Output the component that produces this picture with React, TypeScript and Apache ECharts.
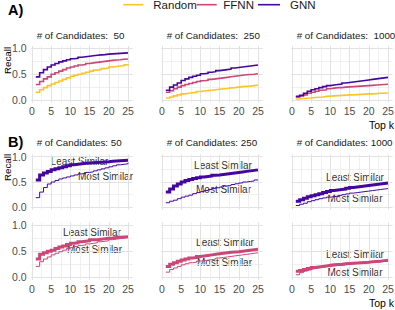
import React, { useEffect, useRef } from 'react';
import * as echarts from 'echarts';

// ---------- data ----------
const topK = [1, 2, 3, 4, 5, 6, 7, 8, 9, 10, 11, 12, 13, 14, 15, 16, 17, 18, 19, 20, 21, 22, 23, 24, 25];
const candidateCounts = ['50', '250', '1000'];
const modelNames = ['Random', 'FFNN', 'GNN'];
const xTickValues = [0, 5, 10, 15, 20, 25];
const xMinorValues = [2.5, 7.5, 12.5, 17.5, 22.5];
const yTickValues = [0, 0.5, 1];
const yMinorValues = [0.25, 0.75];
const similarityNames = ['Least Similar', 'Most Similar'];

// Panel A: recall per model, for 50 / 250 / 1000 candidates
const random50 = [0.15, 0.2, 0.24, 0.28, 0.31, 0.34, 0.37, 0.4, 0.43, 0.46, 0.48, 0.5, 0.52, 0.54, 0.56, 0.58, 0.59, 0.61, 0.62, 0.64, 0.65, 0.66, 0.67, 0.685, 0.7];
const ffnn50 = [0.3, 0.36, 0.41, 0.45, 0.5, 0.53, 0.56, 0.59, 0.62, 0.64, 0.66, 0.68, 0.69, 0.71, 0.72, 0.73, 0.74, 0.75, 0.76, 0.77, 0.775, 0.78, 0.79, 0.795, 0.8];
const gnn50 = [0.45, 0.53, 0.59, 0.64, 0.68, 0.71, 0.74, 0.76, 0.78, 0.8, 0.81, 0.83, 0.84, 0.85, 0.86, 0.87, 0.875, 0.88, 0.89, 0.895, 0.9, 0.905, 0.91, 0.915, 0.92];
const random250 = [0.04, 0.06, 0.08, 0.1, 0.12, 0.13, 0.14, 0.15, 0.165, 0.175, 0.185, 0.19, 0.2, 0.21, 0.22, 0.225, 0.235, 0.24, 0.25, 0.26, 0.265, 0.27, 0.28, 0.29, 0.3];
const ffnn250 = [0.15, 0.18, 0.22, 0.25, 0.28, 0.3, 0.32, 0.34, 0.36, 0.375, 0.385, 0.4, 0.41, 0.42, 0.43, 0.44, 0.45, 0.46, 0.47, 0.48, 0.49, 0.495, 0.5, 0.51, 0.52];
const gnn250 = [0.19, 0.25, 0.29, 0.33, 0.38, 0.41, 0.44, 0.46, 0.48, 0.51, 0.52, 0.54, 0.55, 0.57, 0.58, 0.59, 0.6, 0.62, 0.63, 0.64, 0.65, 0.66, 0.67, 0.68, 0.69];
const random1000 = [0.02, 0.03, 0.035, 0.04, 0.05, 0.055, 0.06, 0.07, 0.075, 0.08, 0.085, 0.09, 0.095, 0.1, 0.1, 0.105, 0.11, 0.115, 0.12, 0.12, 0.125, 0.13, 0.13, 0.135, 0.14];
const ffnn1000 = [0.06, 0.08, 0.1, 0.13, 0.15, 0.17, 0.19, 0.2, 0.22, 0.23, 0.24, 0.24, 0.25, 0.255, 0.26, 0.265, 0.27, 0.275, 0.28, 0.285, 0.29, 0.295, 0.3, 0.305, 0.31];
const gnn1000 = [0.07, 0.09, 0.13, 0.17, 0.2, 0.22, 0.24, 0.26, 0.28, 0.29, 0.3, 0.31, 0.33, 0.34, 0.35, 0.36, 0.37, 0.38, 0.39, 0.4, 0.41, 0.42, 0.43, 0.44, 0.45];

// Panel B: GNN least / most similar
const gnnLeast50 = [0.54, 0.64, 0.68, 0.71, 0.74, 0.76, 0.78, 0.8, 0.82, 0.84, 0.85, 0.86, 0.87, 0.875, 0.88, 0.885, 0.89, 0.895, 0.9, 0.91, 0.915, 0.92, 0.925, 0.93, 0.93];
const gnnMost50 = [0.19, 0.3, 0.39, 0.46, 0.5, 0.53, 0.56, 0.58, 0.6, 0.62, 0.64, 0.66, 0.67, 0.69, 0.7, 0.72, 0.74, 0.76, 0.78, 0.8, 0.82, 0.84, 0.85, 0.86, 0.88];
const gnnLeast250 = [0.3, 0.36, 0.42, 0.46, 0.5, 0.53, 0.55, 0.57, 0.585, 0.6, 0.61, 0.62, 0.635, 0.64, 0.65, 0.66, 0.67, 0.68, 0.69, 0.7, 0.71, 0.72, 0.73, 0.74, 0.75];
const gnnMost250 = [0.09, 0.12, 0.14, 0.17, 0.2, 0.22, 0.24, 0.27, 0.29, 0.31, 0.33, 0.35, 0.37, 0.385, 0.4, 0.42, 0.43, 0.45, 0.465, 0.48, 0.5, 0.51, 0.52, 0.54, 0.55];
const gnnLeast1000 = [0.12, 0.15, 0.18, 0.21, 0.23, 0.25, 0.27, 0.29, 0.31, 0.33, 0.34, 0.35, 0.36, 0.375, 0.39, 0.4, 0.41, 0.42, 0.43, 0.44, 0.45, 0.46, 0.47, 0.48, 0.49];
const gnnMost1000 = [0.035, 0.06, 0.08, 0.11, 0.13, 0.15, 0.17, 0.185, 0.2, 0.21, 0.22, 0.235, 0.25, 0.265, 0.28, 0.29, 0.3, 0.31, 0.32, 0.33, 0.34, 0.35, 0.36, 0.37, 0.38];

// Panel B: FFNN least / most similar
const ffnnLeast50 = [0.35, 0.44, 0.47, 0.5, 0.52, 0.55, 0.58, 0.6, 0.63, 0.65, 0.66, 0.68, 0.69, 0.7, 0.72, 0.72, 0.73, 0.74, 0.745, 0.75, 0.76, 0.765, 0.77, 0.775, 0.78];
const ffnnMost50 = [0.21, 0.3, 0.35, 0.39, 0.43, 0.46, 0.49, 0.52, 0.55, 0.57, 0.59, 0.61, 0.62, 0.64, 0.65, 0.66, 0.68, 0.69, 0.7, 0.72, 0.73, 0.74, 0.75, 0.76, 0.77];
const ffnnLeast250 = [0.21, 0.25, 0.28, 0.31, 0.33, 0.35, 0.37, 0.38, 0.4, 0.41, 0.42, 0.43, 0.44, 0.45, 0.46, 0.47, 0.48, 0.485, 0.49, 0.5, 0.51, 0.52, 0.53, 0.535, 0.54];
const ffnnMost250 = [0.1, 0.15, 0.18, 0.21, 0.24, 0.26, 0.28, 0.29, 0.31, 0.32, 0.33, 0.34, 0.35, 0.37, 0.38, 0.39, 0.4, 0.41, 0.42, 0.43, 0.44, 0.45, 0.46, 0.47, 0.48];
const ffnnLeast1000 = [0.115, 0.13, 0.15, 0.17, 0.19, 0.2, 0.21, 0.22, 0.23, 0.24, 0.245, 0.25, 0.26, 0.265, 0.27, 0.275, 0.28, 0.285, 0.29, 0.3, 0.305, 0.31, 0.32, 0.325, 0.33];
const ffnnMost1000 = [0.05, 0.09, 0.12, 0.14, 0.165, 0.18, 0.19, 0.2, 0.21, 0.22, 0.225, 0.23, 0.24, 0.25, 0.26, 0.265, 0.27, 0.275, 0.28, 0.29, 0.295, 0.3, 0.305, 0.31, 0.31];

// ---------- styling ----------
const FONT = '"Liberation Sans Narrow", "Liberation Sans", Arial, sans-serif';
const COLORS: Record<string, string> = { Random: '#fcc527', FFNN: '#cc4678', GNN: '#46069e' };
const colLeft = [31.2, 161.2, 291.2];
const panelW = 101.4;
const rowTop = [45.9, 154.2, 222.4];
const rowH = [56.7, 55.6, 57.6];
const majorGrid = '#e2e2e2';
const minorGrid = '#ececec';

type Panel = { row: number; col: number; lines: { name: string; values: number[]; color: string; width: number }[] };

function buildPanels(): Panel[] {
  const aData = [
    [random50, ffnn50, gnn50],
    [random250, ffnn250, gnn250],
    [random1000, ffnn1000, gnn1000],
  ];
  const bGnn = [
    [gnnLeast50, gnnMost50],
    [gnnLeast250, gnnMost250],
    [gnnLeast1000, gnnMost1000],
  ];
  const bFfnn = [
    [ffnnLeast50, ffnnMost50],
    [ffnnLeast250, ffnnMost250],
    [ffnnLeast1000, ffnnMost1000],
  ];
  const panels: Panel[] = [];
  for (let c = 0; c < 3; c++) {
    panels.push({
      row: 0,
      col: c,
      lines: modelNames.map((m, i) => ({ name: m, values: aData[c][i], color: COLORS[m], width: 1.6 })),
    });
  }
  for (let c = 0; c < 3; c++) {
    panels.push({
      row: 1,
      col: c,
      lines: similarityNames.map((s, i) => ({ name: 'GNN ' + s, values: bGnn[c][i], color: COLORS.GNN, width: i === 0 ? 3 : 1 })),
    });
  }
  for (let c = 0; c < 3; c++) {
    panels.push({
      row: 2,
      col: c,
      lines: similarityNames.map((s, i) => ({ name: 'FFNN ' + s, values: bFfnn[c][i], color: COLORS.FFNN, width: i === 0 ? 3 : 1 })),
    });
  }
  return panels;
}

function txt(text: string, x: number, y: number, size: number, color: string, align = 'left', weight = 'normal', rotation = 0) {
  return {
    type: 'text',
    x,
    y,
    rotation,
    silent: true,
    style: {
      text,
      fill: color,
      fontSize: size,
      fontFamily: FONT,
      fontWeight: weight,
      align,
      textAlign: align,
      verticalAlign: 'middle',
      textVerticalAlign: 'middle',
    },
  };
}

function buildOption() {
  const panels = buildPanels();
  const grid: any[] = [];
  const xAxis: any[] = [];
  const yAxis: any[] = [];
  const series: any[] = [];
  panels.forEach((p, gi) => {
    grid.push({
      left: colLeft[p.col],
      top: rowTop[p.row],
      width: panelW,
      height: rowH[p.row],
      containLabel: false,
      outerBoundsMode: 'none',
    });
    const showX = p.row !== 1;
    const showY = p.col === 0;
    xAxis.push({
      gridIndex: gi,
      type: 'value',
      min: -0.2,
      max: 26.2,
      axisLine: { show: false },
      axisTick: { show: false, customValues: xTickValues },
      axisLabel: { show: showX, customValues: xTickValues, margin: 3, fontSize: 10.5, color: '#4d4d4d', fontFamily: FONT },
      splitLine: { show: true, lineStyle: { color: majorGrid, width: 1 } },
    });
    xAxis.push({
      gridIndex: gi,
      type: 'value',
      min: -0.2,
      max: 26.2,
      axisLine: { show: false },
      axisTick: { show: false, customValues: xMinorValues },
      axisLabel: { show: false, customValues: xMinorValues },
      splitLine: { show: true, lineStyle: { color: minorGrid, width: 0.8 } },
    });
    yAxis.push({
      gridIndex: gi,
      type: 'value',
      min: -0.05,
      max: 1.05,
      axisLine: { show: false },
      axisTick: { show: false, customValues: yTickValues },
      axisLabel: {
        show: showY,
        customValues: yTickValues,
        margin: 4.5,
        fontSize: 10.5,
        color: '#4d4d4d',
        fontFamily: FONT,
        formatter: (v: number) => v.toFixed(1),
      },
      splitLine: { show: true, lineStyle: { color: majorGrid, width: 1 } },
    });
    yAxis.push({
      gridIndex: gi,
      type: 'value',
      min: -0.05,
      max: 1.05,
      axisLine: { show: false },
      axisTick: { show: false, customValues: yMinorValues },
      axisLabel: { show: false, customValues: yMinorValues },
      splitLine: { show: true, lineStyle: { color: minorGrid, width: 0.8 } },
    });
    p.lines.forEach((l) => {
      series.push({
        type: 'line',
        name: l.name,
        xAxisIndex: gi * 2,
        yAxisIndex: gi * 2,
        data: topK.map((k, i) => [k, l.values[i]]),
        step: 'end',
        symbol: 'none',
        showSymbol: false,
        silent: true,
        lineStyle: { color: l.color, width: l.width, cap: 'butt', join: 'miter' },
        itemStyle: { color: l.color },
      });
    });
  });

  const graphic: any[] = [];
  // titles
  graphic.push(txt('A)', 8, 10, 14.5, '#000', 'left', 'bold'));
  graphic.push(txt('B)', 8, 142.3, 14.5, '#000', 'left', 'bold'));
  // legend
  const legendLines = [
    [123.3, 143.3],
    [196.7, 216.7],
    [258, 280],
  ];
  const legendTextX = [153.3, 223.3, 290];
  modelNames.forEach((m, i) => {
    graphic.push({
      type: 'line',
      silent: true,
      shape: { x1: legendLines[i][0], y1: 4.7, x2: legendLines[i][1], y2: 4.7 },
      style: { stroke: COLORS[m], lineWidth: 1.6 },
    });
    graphic.push(txt(m, legendTextX[i], 5, 11.5, '#1a1a1a'));
  });
  // strip titles
  candidateCounts.forEach((c, i) => {
    graphic.push(txt('# of Candidates:  ' + c, colLeft[i] + 5.5, 35, 9.8, '#1a1a1a'));
    graphic.push(txt('# of Candidates: ' + c, colLeft[i] + 5.5, 142.3, 9.8, '#1a1a1a'));
  });
  // axis titles
  graphic.push(txt('Recall', 7, 60.5, 9.8, '#000', 'center', 'normal', Math.PI / 2));
  graphic.push(txt('Recall', 7, 167.5, 9.8, '#000', 'center', 'normal', Math.PI / 2));
  graphic.push(txt('Top k', 394, 124.5, 10.5, '#000', 'right'));
  graphic.push(txt('Top k', 394, 303.3, 10.5, '#000', 'right'));
  // annotations
  const annot = [
    ['Least Similar', 79.5, 161.9],
    ['Most Similar', 105.5, 176],
    ['Least Similar', 223, 165.7],
    ['Most Similar', 223.5, 189],
    ['Least Similar', 355, 177.3],
    ['Most Similar', 355, 198.3],
    ['Least Similar', 92, 232.3],
    ['Most Similar', 94.5, 249],
    ['Least Similar', 225, 242.7],
    ['Most Similar', 224.5, 262.7],
    ['Least Similar', 355, 254],
    ['Most Similar', 355, 272.3],
  ];
  annot.forEach((a) => graphic.push(txt(a[0] as string, a[1] as number, a[2] as number, 10, '#333333', 'center')));

  return {
    animation: false,
    backgroundColor: '#ffffff',
    textStyle: { fontFamily: FONT },
    grid,
    xAxis,
    yAxis,
    series,
    graphic,
  };
}

export default function App() {
  const ref = useRef<HTMLDivElement>(null);
  useEffect(() => {
    if (!ref.current) return;
    const chart = echarts.init(ref.current, null, { renderer: 'svg' });
    chart.setOption(buildOption() as any);
    return () => chart.dispose();
  }, []);
  return <div ref={ref} style={{ position: 'fixed', left: 0, top: 0, width: 395, height: 310, background: '#fff' }} />;
}
